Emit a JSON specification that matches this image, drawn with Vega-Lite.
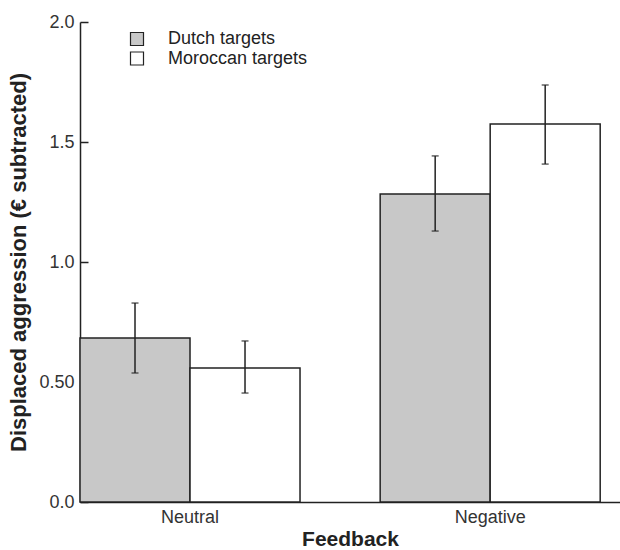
{
  "$schema": "https://vega.github.io/schema/vega-lite/v6.json",
  "width": 540,
  "height": 480,
  "autosize": "none",
  "padding": {"left": 80, "top": 22, "right": 0, "bottom": 48},
  "background": "white",
  "config": {
    "view": {"stroke": null},
    "font": "Liberation Sans",
    "axis": {"grid": false, "domainColor": "#222", "domainWidth": 1.5, "tickColor": "#222", "tickWidth": 1.5, "labelColor": "#333", "titleColor": "#222", "labelFont": "Liberation Sans", "titleFont": "Liberation Sans"}
  },
  "data": {"values": [
    {"feedback": "Neutral", "target": "Dutch targets", "mean": 0.683, "lo": 0.5375, "hi": 0.829},
    {"feedback": "Neutral", "target": "Moroccan targets", "mean": 0.558, "lo": 0.454, "hi": 0.671},
    {"feedback": "Negative", "target": "Dutch targets", "mean": 1.283, "lo": 1.129, "hi": 1.442},
    {"feedback": "Negative", "target": "Moroccan targets", "mean": 1.575, "lo": 1.408, "hi": 1.7375}
  ]},
  "encoding": {
    "x": {"field": "feedback", "type": "nominal", "sort": ["Neutral", "Negative"],
      "scale": {"paddingInner": 0.267, "paddingOuter": 0.033, "align": 0},
      "axis": {"title": "Feedback", "labelAngle": 0, "ticks": false, "labelFontSize": 18, "labelPadding": 6, "titleFontSize": 21, "titleFontWeight": "bold", "titlePadding": 2}},
    "xOffset": {"field": "target", "type": "nominal", "scale": {"paddingInner": 0, "paddingOuter": 0}}
  },
  "layer": [
    {
      "mark": {"type": "bar", "stroke": "#222", "strokeWidth": 1.5},
      "encoding": {
        "y": {"field": "mean", "type": "quantitative",
          "scale": {"domain": [0, 2], "nice": false},
          "axis": {"title": "Displaced aggression (€ subtracted)", "values": [0, 0.5, 1, 1.5, 2],
            "labelExpr": "datum.value == 0.5 ? '0.50' : format(datum.value, '.1f')",
            "tickSize": -8, "labelPadding": 14, "labelFontSize": 18, "titleFontSize": 22, "titleFontWeight": "bold", "titlePadding": 8}},
        "fill": {"field": "target", "type": "nominal",
          "scale": {"domain": ["Dutch targets", "Moroccan targets"], "range": ["#c8c8c8", "#ffffff"]},
          "legend": {"title": null, "orient": "none", "legendX": 48, "legendY": 8, "padding": 0,
            "symbolType": "square", "symbolSize": 169, "symbolStrokeColor": "#222", "symbolStrokeWidth": 1.2,
            "labelFontSize": 18, "labelColor": "#222", "labelOffset": 22, "rowPadding": 1.5}}
      }
    },
    {
      "mark": {"type": "rule", "color": "#222", "strokeWidth": 1.5},
      "encoding": {"y": {"field": "lo", "type": "quantitative"}, "y2": {"field": "hi"}}
    },
    {
      "mark": {"type": "tick", "color": "#222", "size": 7, "thickness": 1.5},
      "encoding": {"y": {"field": "lo", "type": "quantitative"}}
    },
    {
      "mark": {"type": "tick", "color": "#222", "size": 7, "thickness": 1.5},
      "encoding": {"y": {"field": "hi", "type": "quantitative"}}
    }
  ]
}
